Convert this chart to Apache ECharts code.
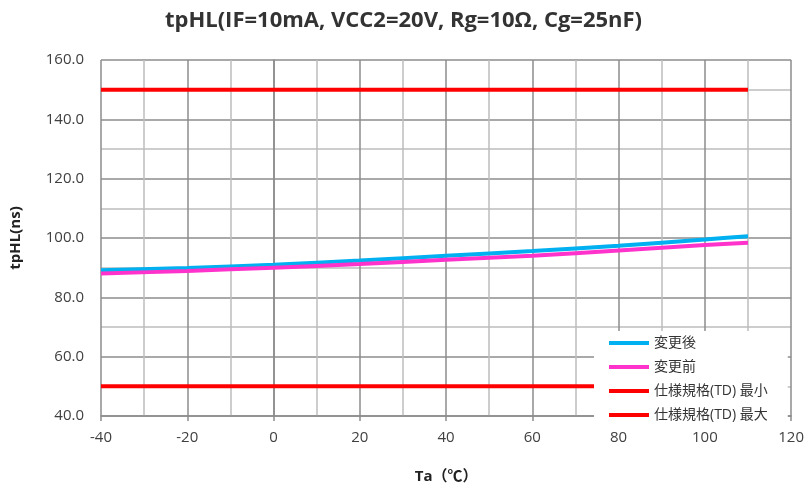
<!DOCTYPE html>
<html><head><meta charset="utf-8">
<script src="https://cdn.jsdelivr.net/npm/echarts@6/dist/echarts.min.js"></script>
<style>html,body{margin:0;padding:0;background:#fff}#c{width:807px;height:489px}</style>
</head><body><div id="c"></div>
<script>
var temps = [-40, -20, 0, 20, 40, 60, 80, 100, 110];
var after = [89.1, 89.9, 91.0, 92.4, 94.0, 95.6, 97.4, 99.5, 100.6];
var before = [88.0, 88.9, 90.0, 91.2, 92.7, 94.0, 95.8, 97.6, 98.4];
var specX = [-40, 110];
var specMin = [50, 50];
var specMax = [150, 150];
var names = ['変更後', '変更前', '仕様規格(TD) 最小', '仕様規格(TD) 最大'];

function pairs(xs, ys){ return xs.map(function(x,i){return [x, ys[i]];}); }
var font = "'Open Sans', 'Noto Sans CJK JP', sans-serif";
var chart = echarts.init(document.getElementById('c'), null, {renderer:'canvas'});
chart.setOption({
  animation:false,
  title:{text:'tpHL(IF=10mA, VCC2=20V, Rg=10Ω, Cg=25nF)', left:'center', top:5,
    textStyle:{fontFamily:font, fontSize:22, fontWeight:'bold', color:'#333'}},
  grid:{left:100, right:14, top:60, bottom:67, containLabel:false},
  legend:{orient:'vertical', left:594, top:331, backgroundColor:'#fff',
    padding:[5,20,5,15], itemGap:10, itemWidth:40, itemHeight:4, icon:'rect',
    textStyle:{fontFamily:font, fontSize:14, color:'#333'}, data:names},
  xAxis:{type:'value', min:-40, max:120, interval:20,
    name:'Ta（℃）', nameLocation:'middle', nameGap:53,
    nameTextStyle:{fontFamily:font, fontSize:15, fontWeight:'bold', color:'#222'},
    axisLine:{show:true, lineStyle:{color:'#8c8c8c', width:1.5}},
    axisTick:{show:true, inside:false, length:5, lineStyle:{color:'#8c8c8c', width:1.5}},
    axisLabel:{fontFamily:font, fontSize:15, color:'#404040', margin:14},
    splitLine:{show:true, lineStyle:{color:'#8c8c8c', width:1.5}},
    minorTick:{show:false, splitNumber:2},
    minorSplitLine:{show:true, lineStyle:{color:'#bdbdbd', width:1.5}}},
  yAxis:{type:'value', min:40, max:160, interval:20,
    name:'tpHL(ns)', nameLocation:'middle', nameGap:78,
    nameTextStyle:{fontFamily:font, fontSize:15, fontWeight:'bold', color:'#222'},
    axisLine:{show:true, lineStyle:{color:'#8c8c8c', width:1.5}},
    axisTick:{show:false},
    axisLabel:{fontFamily:font, fontSize:15, color:'#404040', margin:17,
      formatter:function(v){return v.toFixed(1);}},
    splitLine:{show:true, lineStyle:{color:'#8c8c8c', width:1.5}},
    minorTick:{show:false, splitNumber:2},
    minorSplitLine:{show:true, lineStyle:{color:'#bdbdbd', width:1.5}}},
  series:[
    {name:names[3], type:'line', data:pairs(specX, specMax), showSymbol:false, symbol:'none',
      lineStyle:{color:'#ff0000', width:4}, itemStyle:{color:'#ff0000'}, z:3},
    {name:names[2], type:'line', data:pairs(specX, specMin), showSymbol:false, symbol:'none',
      lineStyle:{color:'#ff0000', width:4}, itemStyle:{color:'#ff0000'}, z:3},
    {name:names[1], type:'line', data:pairs(temps, before), smooth:0.3, showSymbol:false, symbol:'none',
      lineStyle:{color:'#ff33cc', width:4}, itemStyle:{color:'#ff33cc'}, z:4},
    {name:names[0], type:'line', data:pairs(temps, after), smooth:0.3, showSymbol:false, symbol:'none',
      lineStyle:{color:'#00b0f0', width:4}, itemStyle:{color:'#00b0f0'}, z:3}
  ]
});
</script></body></html>
